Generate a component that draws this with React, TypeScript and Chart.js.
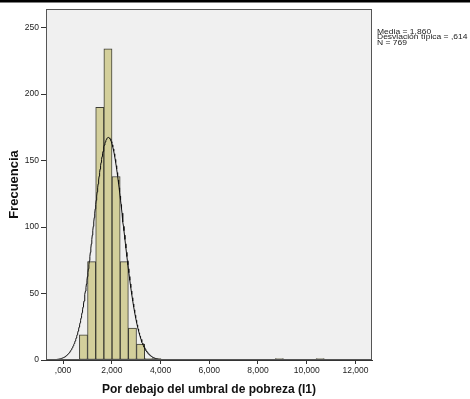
import React, { useEffect, useRef } from 'react';
import { Chart, registerables } from 'chart.js';

Chart.register(...registerables);

// ---- Data ----
const binStarts = [0.67, 1.005, 1.34, 1.675, 2.01, 2.345, 2.68, 3.015, 3.35, 3.685, 8.71, 10.385];
const binCounts = [19, 74, 190, 234, 138, 74, 24, 12, 1, 1, 1, 1];
const binWidth = 0.335;
const xTickValues = [0, 2, 4, 6, 8, 10, 12];
const yTickValues = [0, 50, 100, 150, 200, 250];
const statsLines = ['Media = 1,860', 'Desviación típica = ,614', 'N = 769'];
const statMean = 1.86;
const statSd = 0.614;
const statN = 769;
const xTitle = 'Por debajo del umbral de pobreza (I1)';
const yTitle = 'Frecuencia';

const X_MIN = -0.7;
const X_MAX = 12.68;
const Y_MAX = 264;

const FONT = '"Liberation Sans", Arial, sans-serif';

// fitted normal curve from the displayed statistics
const curveXs: number[] = [];
for (let i = 0; i <= 669; i++) curveXs.push(X_MIN + i * 0.02);
const curvePoints = curveXs.map((x) => ({
  x,
  y:
    (statN * binWidth) / (statSd * Math.sqrt(2 * Math.PI)) *
    Math.exp(-((x - statMean) ** 2) / (2 * statSd * statSd)),
}));

const fmtX = (v: number) => (v === 0 ? ',000' : v.toFixed(3).replace('.', ','));

export default function App() {
  const ref = useRef<HTMLCanvasElement | null>(null);

  useEffect(() => {
    if (!ref.current) return;
    const decor = {
      id: 'decor',
      beforeDraw(chart: any) {
        const { ctx, chartArea: a, width } = chart;
        ctx.save();
        ctx.fillStyle = '#ffffff';
        ctx.fillRect(0, 0, width, chart.height);
        ctx.fillStyle = '#f0f0f0';
        ctx.fillRect(a.left, a.top, a.right - a.left, a.bottom - a.top);
        ctx.restore();
      },
      afterDraw(chart: any) {
        const { ctx, chartArea: a, width } = chart;
        ctx.save();
        ctx.strokeStyle = '#555555';
        ctx.lineWidth = 1;
        ctx.strokeRect(a.left + 0.5, a.top + 0.5, a.right - a.left - 1, a.bottom - a.top - 1);
        ctx.fillStyle = '#000000';
        ctx.fillRect(0, 0, width, 2.5);
        ctx.restore();
        ctx.save();
        ctx.fillStyle = '#222222';
        ctx.font = `8.5px ${FONT}`;
        ctx.textBaseline = 'alphabetic';
        ctx.textAlign = 'left';
        const sy = 0.78;
        ctx.scale(1, sy);
        statsLines.forEach((t, i) => ctx.fillText(t, a.right + 5, (33.8 + i * 5.5) / sy));
        ctx.restore();
      },
    };

    const chart = new Chart(ref.current, {
      data: {
        datasets: [
          {
            type: 'line',
            data: curvePoints,
            borderColor: '#111111',
            borderWidth: 1,
            pointRadius: 0,
            tension: 0,
            fill: false,
          },
          {
            type: 'bar',
            data: binStarts.map((s, i) => ({ x: s + binWidth / 2, y: binCounts[i] })),
            backgroundColor: '#d3cf9b',
            borderColor: '#3d3d35',
            borderWidth: 1,
            borderSkipped: false,
            barPercentage: 1,
            categoryPercentage: 1,
          },
        ],
      } as any,
      options: {
        animation: false,
        responsive: false,
        events: [],
        layout: { padding: { left: 0, top: 9, right: 98, bottom: 0 } },
        plugins: { legend: { display: false }, tooltip: { enabled: false } },
        scales: {
          x: {
            type: 'linear',
            offset: false,
            min: X_MIN,
            max: X_MAX,
            afterBuildTicks: (s: any) => {
              s.ticks = xTickValues.map((v) => ({ value: v }));
            },
            afterFit: (s: any) => {
              s.height = 39;
            },
            grid: { drawOnChartArea: false, drawTicks: true, tickLength: 4, color: '#333333', offset: false },
            border: { display: true, color: '#333333' },
            ticks: {
              color: '#222222',
              font: { family: FONT, size: 8.5 },
              padding: 2,
              maxRotation: 0,
              autoSkip: false,
              callback: (v: any) => fmtX(Number(v)),
            },
            title: {
              display: true,
              text: xTitle,
              color: '#111111',
              font: { family: FONT, size: 12, weight: 'bold' },
              padding: { top: 0, bottom: 2 },
            },
          },
          y: {
            type: 'linear',
            min: 0,
            max: Y_MAX,
            afterBuildTicks: (s: any) => {
              s.ticks = yTickValues.map((v) => ({ value: v }));
            },
            afterFit: (s: any) => {
              s.width = 46;
            },
            grid: { drawOnChartArea: false, drawTicks: true, tickLength: 5, color: '#333333' },
            border: { display: true, color: '#333333' },
            ticks: {
              color: '#222222',
              font: { family: FONT, size: 8.5 },
              padding: 2,
              autoSkip: false,
              callback: (v: any) => String(v),
            },
            title: {
              display: true,
              text: yTitle,
              color: '#111111',
              font: { family: FONT, size: 13, weight: 'bold' },
              padding: { top: 7, bottom: 0 },
            },
          },
        },
      } as any,
      plugins: [decor],
    });
    return () => chart.destroy();
  }, []);

  return (
    <div style={{ position: 'fixed', left: 0, top: 0, width: 470, height: 399 }}>
      <canvas ref={ref} width={470} height={399} style={{ display: 'block', width: 470, height: 399 }} />
    </div>
  );
}
